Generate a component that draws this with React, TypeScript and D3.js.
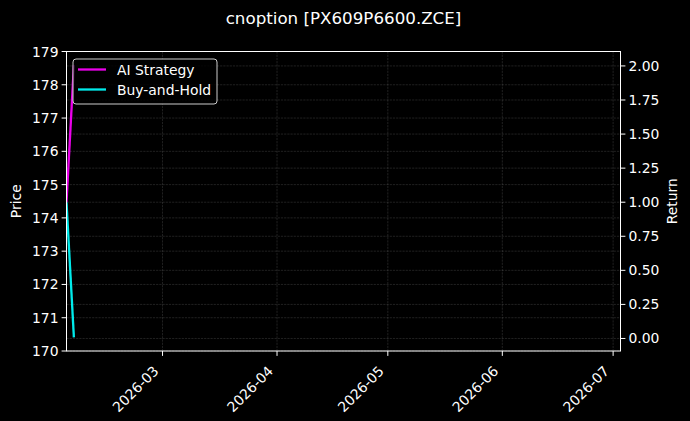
import React from "react";
import * as d3 from "d3";

const W = 690;
const H = 421;

const title = "cnoption [PX609P6600.ZCE]";
const dates = ["2026-02-03", "2026-02-05"];
const aiStrategy = [1.0, 2.006];
const buyHold = [1.0, 0.008];
const xDomainDates = ["2026-02-03", "2026-07-03"];
const priceTicks = [170, 171, 172, 173, 174, 175, 176, 177, 178, 179];
const returnTicks = [0, 0.25, 0.5, 0.75, 1.0, 1.25, 1.5, 1.75, 2.0];
const xTickDates = ["2026-03-01", "2026-04-01", "2026-05-01", "2026-06-01", "2026-07-01"];
const seriesNames = ["AI Strategy", "Buy-and-Hold"];
const seriesColors = ["#ff00ff", "#00ffff"];

const parse = d3.timeParse("%Y-%m-%d");

export default function App() {
  const left = 66.5, right = 620.5, top = 51.5, bottom = 351;
  const x = d3.scaleTime()
    .domain(xDomainDates.map((d) => parse(d) as Date))
    .range([left, right]);
  const yL = d3.scaleLinear().domain([170, 179]).range([bottom, top]);
  const all = [...aiStrategy, ...buyHold];
  const mn = d3.min(all) as number, mx = d3.max(all) as number;
  const m = (mx - mn) * 0.05;
  const yR = d3.scaleLinear().domain([mn - m, mx + m]).range([bottom, top]);
  const fmtX = d3.timeFormat("%Y-%m");
  const fmtR = d3.format(".2f");
  const series = [aiStrategy, buyHold];
  const line = d3.line<[Date, number]>().x((d) => x(d[0])).y((d) => yR(d[1]));
  const font = "DejaVu Sans, sans-serif";
  const fs = 13.9;
  const grid = { stroke: "#b0b0b0", strokeOpacity: 0.3, strokeWidth: 0.6, strokeDasharray: "2.2,1" };

  return (
    <svg width={W} height={H} style={{ position: "fixed", left: 0, top: 0, background: "#000" }} fontFamily={font}>
      <rect x={0} y={0} width={W} height={H} fill="#000" />
      <defs>
        <clipPath id="plot">
          <rect x={left} y={top} width={right - left} height={bottom - top} />
        </clipPath>
      </defs>
      {/* grid */}
      {xTickDates.map((d) => (
        <line key={"gx" + d} x1={x(parse(d) as Date)} x2={x(parse(d) as Date)} y1={top} y2={bottom} {...grid} />
      ))}
      {priceTicks.map((t) => (
        <line key={"gl" + t} x1={left} x2={right} y1={yL(t)} y2={yL(t)} {...grid} />
      ))}
      {returnTicks.map((t) => (
        <line key={"gr" + t} x1={left} x2={right} y1={yR(t)} y2={yR(t)} {...grid} />
      ))}
      {/* lines */}
      <g clipPath="url(#plot)">
        {series.map((s, i) => (
          <path
            key={i}
            d={line(s.map((v, j) => [parse(dates[j]) as Date, v])) as string}
            fill="none"
            stroke={seriesColors[i]}
            strokeOpacity={0.92}
            strokeWidth={2.3}
          />
        ))}
      </g>
      {/* spines */}
      <rect x={left} y={top} width={right - left} height={bottom - top} fill="none" stroke="#fff" strokeWidth={1} />
      {/* left ticks */}
      {priceTicks.map((t) => (
        <g key={"lt" + t}>
          <line x1={left - 4.9} x2={left} y1={yL(t)} y2={yL(t)} stroke="#fff" />
          <text x={left - 8} y={yL(t)} dy="0.36em" textAnchor="end" fill="#fff" fontSize={fs}>{t}</text>
        </g>
      ))}
      {/* right ticks */}
      {returnTicks.map((t) => (
        <g key={"rt" + t}>
          <line x1={right} x2={right + 4.9} y1={yR(t)} y2={yR(t)} stroke="#fff" />
          <text x={right + 8} y={yR(t)} dy="0.36em" textAnchor="start" fill="#fff" fontSize={fs}>{fmtR(t)}</text>
        </g>
      ))}
      {/* x ticks */}
      {xTickDates.map((d) => {
        const px = x(parse(d) as Date);
        return (
          <g key={"xt" + d}>
            <line x1={px} x2={px} y1={bottom} y2={bottom + 4.9} stroke="#fff" />
            <text transform={`translate(${px - 3},${bottom + 21}) rotate(-45)`} textAnchor="end" fill="#fff" fontSize={fs}>
              {fmtX(parse(d) as Date)}
            </text>
          </g>
        );
      })}
      {/* axis labels */}
      <text transform={`translate(21,${(top + bottom) / 2}) rotate(-90)`} textAnchor="middle" fill="#fff" fontSize={fs}>Price</text>
      <text transform={`translate(677,${(top + bottom) / 2}) rotate(-90)`} textAnchor="middle" fill="#fff" fontSize={fs}>Return</text>
      {/* title */}
      <text x={(left + right) / 2} y={24} textAnchor="middle" fill="#fff" fontSize={16.7}>{title}</text>
      {/* legend */}
      <rect x={73} y={59} width={144} height={45} rx={3} fill="#000" fillOpacity={0.8} stroke="#cccccc" strokeWidth={1} />
      {seriesNames.map((n, i) => (
        <g key={"lg" + n}>
          <line x1={78} x2={106} y1={69.5 + i * 20} y2={69.5 + i * 20} stroke={seriesColors[i]} strokeOpacity={0.92} strokeWidth={2.3} />
          <text x={117} y={69.5 + i * 20} dy="0.36em" fill="#fff" fontSize={fs}>{n}</text>
        </g>
      ))}
    </svg>
  );
}
